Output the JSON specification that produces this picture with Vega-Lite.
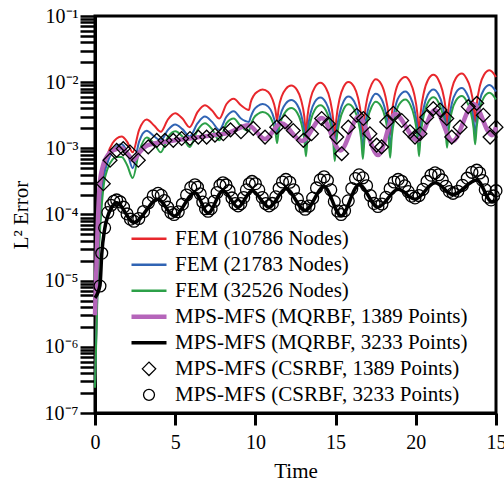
{
"$schema": "https://vega.github.io/schema/vega-lite/v6.json",
"width": 401, "height": 397,
"autosize": {"type": "none"},
"padding": {"left": 95, "top": 16, "right": 8, "bottom": 69},
"background": "white",
"config": {
  "view": {"stroke": "black", "strokeWidth": 3},
  "font": "Liberation Serif",
  "axis": {"domainColor": "black", "domainWidth": 3, "tickColor": "black", "labelColor": "black", "titleColor": "black", "labelFont": "Liberation Serif", "titleFont": "Liberation Serif", "grid": false, "titleFontWeight": "normal"}
},
"datasets": {
"fem": [
{"t":0,"r":2.5e-7,"b":2.5e-7,"g":2.4e-7},
{"t":0.1,"r":3.2e-6,"b":2.5e-6,"g":2.0e-6},
{"t":0.2,"r":2.5e-5,"b":2.0e-5,"g":1.58e-5},
{"t":0.35,"r":1.26e-4,"b":1.0e-4,"g":7.9e-5},
{"t":0.55,"r":4.5e-4,"b":3.55e-4,"g":2.82e-4},
{"t":0.8,"r":8.3e-4,"b":6.3e-4,"g":5.0e-4},
{"t":1.1,"r":1.2e-3,"b":8.9e-4,"g":6.8e-4},
{"t":1.35,"r":1.41e-3,"b":1.07e-3,"g":7.4e-4},
{"t":1.66,"r":1.51e-3,"b":1.15e-3,"g":7.4e-4},
{"t":2.0,"r":1.26e-3,"b":8.9e-4,"g":5.6e-4},
{"t":2.35,"r":8.7e-4,"b":5.0e-4,"g":3.55e-4},
{"t":2.75,"r":1.9e-3,"b":1.26e-3,"g":8.9e-4},
{"t":3.22,"r":2.72e-3,"b":1.84e-3,"g":1.46e-3},
{"t":3.7,"r":2.19e-3,"b":1.51e-3,"g":1.17e-3},
{"t":4.1,"r":1.78e-3,"b":1.32e-3,"g":8.7e-4},
{"t":4.55,"r":2.75e-3,"b":1.9e-3,"g":1.48e-3},
{"t":5.0,"r":3.39e-3,"b":2.29e-3,"g":1.82e-3},
{"t":5.45,"r":2.82e-3,"b":1.95e-3,"g":1.51e-3},
{"t":5.9,"r":2.09e-3,"b":1.51e-3,"g":1.05e-3},
{"t":6.4,"r":3.55e-3,"b":2.4e-3,"g":1.9e-3},
{"t":6.85,"r":4.47e-3,"b":3.02e-3,"g":2.4e-3},
{"t":7.3,"r":3.72e-3,"b":2.51e-3,"g":1.95e-3},
{"t":7.75,"r":2.82e-3,"b":1.9e-3,"g":1.32e-3},
{"t":8.2,"r":4.68e-3,"b":3.02e-3,"g":2.4e-3},
{"t":8.65,"r":5.62e-3,"b":3.63e-3,"g":2.82e-3},
{"t":9.1,"r":4.47e-3,"b":2.82e-3,"g":2.14e-3},
{"t":9.6,"r":3.8e-3,"b":2.51e-3,"g":1.82e-3},
{"t":9.7,"r":4.9e-3,"b":2.95e-3,"g":2.24e-3},
{"t":9.9,"r":6.31e-3,"b":3.8e-3,"g":2.88e-3},
{"t":10.15,"r":7.24e-3,"b":4.37e-3,"g":3.31e-3},
{"t":10.45,"r":7.76e-3,"b":4.68e-3,"g":3.55e-3},
{"t":10.8,"r":7.08e-3,"b":4.27e-3,"g":3.24e-3},
{"t":11.05,"r":5.62e-3,"b":3.39e-3,"g":2.57e-3},
{"t":11.25,"r":3.8e-3,"b":2.29e-3,"g":1.74e-3},
{"t":11.35,"r":2.63e-3,"b":1.59e-3,"g":1.2e-3},
{"t":11.45,"r":4.03e-3,"b":2.43e-3,"g":1.84e-3},
{"t":11.65,"r":6.17e-3,"b":3.72e-3,"g":2.82e-3},
{"t":11.9,"r":7.94e-3,"b":4.79e-3,"g":3.63e-3},
{"t":12.23,"r":8.91e-3,"b":5.37e-3,"g":4.07e-3},
{"t":12.6,"r":7.59e-3,"b":4.58e-3,"g":3.47e-3},
{"t":12.85,"r":5.37e-3,"b":3.24e-3,"g":2.45e-3},
{"t":13.05,"r":3.02e-3,"b":1.82e-3,"g":1.38e-3},
{"t":13.15,"r":1.66e-3,"b":1.0e-3,"g":7.6e-4},
{"t":13.25,"r":3.09e-3,"b":1.86e-3,"g":1.41e-3},
{"t":13.45,"r":5.75e-3,"b":3.47e-3,"g":2.63e-3},
{"t":13.7,"r":8.32e-3,"b":5.02e-3,"g":3.8e-3},
{"t":14.05,"r":9.77e-3,"b":5.89e-3,"g":4.46e-3},
{"t":14.4,"r":8.13e-3,"b":4.9e-3,"g":3.72e-3},
{"t":14.65,"r":5.5e-3,"b":3.32e-3,"g":2.51e-3},
{"t":14.85,"r":2.75e-3,"b":1.66e-3,"g":1.26e-3},
{"t":14.95,"r":1.41e-3,"b":8.5e-4,"g":6.4e-4},
{"t":15.05,"r":2.82e-3,"b":1.7e-3,"g":1.29e-3},
{"t":15.25,"r":5.62e-3,"b":3.39e-3,"g":2.57e-3},
{"t":15.5,"r":8.51e-3,"b":5.13e-3,"g":3.89e-3},
{"t":15.8,"r":1.01e-2,"b":6.09e-3,"g":4.62e-3},
{"t":16.15,"r":8.51e-3,"b":5.13e-3,"g":3.89e-3},
{"t":16.4,"r":5.75e-3,"b":3.47e-3,"g":2.63e-3},
{"t":16.6,"r":2.95e-3,"b":1.78e-3,"g":1.35e-3},
{"t":16.7,"r":1.51e-3,"b":9.1e-4,"g":6.9e-4},
{"t":16.8,"r":3.02e-3,"b":1.82e-3,"g":1.38e-3},
{"t":17.0,"r":6.1e-3,"b":3.68e-3,"g":2.79e-3},
{"t":17.25,"r":9.33e-3,"b":5.63e-3,"g":4.26e-3},
{"t":17.5,"r":1.11e-2,"b":6.69e-3,"g":5.07e-3},
{"t":17.85,"r":9.33e-3,"b":5.63e-3,"g":4.26e-3},
{"t":18.1,"r":6.17e-3,"b":3.72e-3,"g":2.82e-3},
{"t":18.3,"r":3.16e-3,"b":1.91e-3,"g":1.44e-3},
{"t":18.4,"r":1.58e-3,"b":9.5e-4,"g":7.2e-4},
{"t":18.5,"r":3.24e-3,"b":1.95e-3,"g":1.48e-3},
{"t":18.7,"r":6.61e-3,"b":3.99e-3,"g":3.02e-3},
{"t":18.95,"r":1.0e-2,"b":6.03e-3,"g":4.57e-3},
{"t":19.35,"r":1.2e-2,"b":7.24e-3,"g":5.48e-3},
{"t":19.65,"r":1.0e-2,"b":6.03e-3,"g":4.57e-3},
{"t":19.9,"r":6.61e-3,"b":3.99e-3,"g":3.02e-3},
{"t":20.1,"r":3.31e-3,"b":2.0e-3,"g":1.51e-3},
{"t":20.2,"r":1.66e-3,"b":1.0e-3,"g":7.6e-4},
{"t":20.3,"r":3.39e-3,"b":2.04e-3,"g":1.55e-3},
{"t":20.5,"r":6.92e-3,"b":4.17e-3,"g":3.16e-3},
{"t":20.75,"r":1.07e-2,"b":6.45e-3,"g":4.89e-3},
{"t":21.1,"r":1.29e-2,"b":7.78e-3,"g":5.9e-3},
{"t":21.4,"r":1.1e-2,"b":6.63e-3,"g":5.03e-3},
{"t":21.65,"r":7.59e-3,"b":4.58e-3,"g":3.47e-3},
{"t":21.85,"r":4.17e-3,"b":2.51e-3,"g":1.91e-3},
{"t":21.95,"r":2.24e-3,"b":1.35e-3,"g":1.02e-3},
{"t":22.05,"r":4.17e-3,"b":2.51e-3,"g":1.91e-3},
{"t":22.25,"r":7.94e-3,"b":4.79e-3,"g":3.63e-3},
{"t":22.5,"r":1.15e-2,"b":6.93e-3,"g":5.26e-3},
{"t":22.87,"r":1.35e-2,"b":8.14e-3,"g":6.17e-3},
{"t":23.15,"r":1.15e-2,"b":6.93e-3,"g":5.26e-3},
{"t":23.4,"r":8.13e-3,"b":4.9e-3,"g":3.72e-3},
{"t":23.6,"r":4.47e-3,"b":2.7e-3,"g":2.04e-3},
{"t":23.7,"r":2.51e-3,"b":1.51e-3,"g":1.15e-3},
{"t":23.8,"r":4.68e-3,"b":2.82e-3,"g":2.14e-3},
{"t":24.0,"r":8.91e-3,"b":5.37e-3,"g":4.07e-3},
{"t":24.25,"r":1.29e-2,"b":7.78e-3,"g":5.9e-3},
{"t":24.6,"r":1.51e-2,"b":9.1e-3,"g":6.9e-3},
{"t":25,"r":1.2e-2,"b":7.24e-3,"g":5.48e-3}
],
"pts": [
{"s":"p","t":0,"v":3e-6},{"s":"p","t":0.15,"v":5e-5},{"s":"p","t":0.3,"v":2.95e-4},{"s":"p","t":0.5,"v":5.5e-4},{"s":"p","t":0.8,"v":7.9e-4},{"s":"p","t":1.1,"v":9.3e-4},{"s":"p","t":1.66,"v":1.0e-3},{"s":"p","t":2.0,"v":8.5e-4},{"s":"p","t":2.4,"v":6.6e-4},{"s":"p","t":2.8,"v":8.9e-4},{"s":"p","t":3.3,"v":1.12e-3},{"s":"p","t":4.4,"v":1.26e-3},{"s":"p","t":5.9,"v":1.41e-3},{"s":"p","t":7.35,"v":1.58e-3},{"s":"p","t":8.3,"v":1.7e-3},{"s":"p","t":9.56,"v":2.24e-3},{"s":"p","t":10.6,"v":1.38e-3},{"s":"p","t":11.6,"v":2.4e-3},{"s":"p","t":12.9,"v":1.29e-3},{"s":"p","t":14.15,"v":2.88e-3},{"s":"p","t":15.3,"v":9.3e-4},{"s":"p","t":16.45,"v":3.02e-3},{"s":"p","t":17.65,"v":7.9e-4},{"s":"p","t":18.7,"v":3.31e-3},{"s":"p","t":20.1,"v":1.32e-3},{"s":"p","t":21.2,"v":3.8e-3},{"s":"p","t":22.3,"v":1.29e-3},{"s":"p","t":23.6,"v":4.68e-3},{"s":"p","t":24.75,"v":1.58e-3},{"s":"p","t":25,"v":2.09e-3},
{"s":"k","t":0,"v":5.5e-6},{"s":"k","t":0.31,"v":8.5e-6},{"s":"k","t":0.42,"v":2.5e-5},{"s":"k","t":0.6,"v":6e-5},{"s":"k","t":0.8,"v":9.5e-5},{"s":"k","t":1.05,"v":1.3e-4},{"s":"k","t":1.35,"v":1.51e-4},{"s":"k","t":2.43,"v":7.6e-5},{"s":"k","t":3.93,"v":1.7e-4},{"s":"k","t":4.93,"v":9.5e-5},{"s":"k","t":6.23,"v":2.14e-4},{"s":"k","t":7.05,"v":1.05e-4},{"s":"k","t":7.98,"v":2.29e-4},{"s":"k","t":8.92,"v":1.29e-4},{"s":"k","t":9.79,"v":2.29e-4},{"s":"k","t":10.85,"v":1.29e-4},{"s":"k","t":11.9,"v":2.45e-4},{"s":"k","t":13.1,"v":1.15e-4},{"s":"k","t":14.28,"v":2.63e-4},{"s":"k","t":15.34,"v":9.5e-5},{"s":"k","t":16.46,"v":2.82e-4},{"s":"k","t":17.64,"v":1.29e-4},{"s":"k","t":18.9,"v":2.4e-4},{"s":"k","t":19.95,"v":1.7e-4},{"s":"k","t":21.2,"v":3.02e-4},{"s":"k","t":22.32,"v":2.0e-4},{"s":"k","t":23.8,"v":3.31e-4},{"s":"k","t":24.75,"v":1.55e-4},{"s":"k","t":25,"v":1.6e-4},
{"s":"d","t":0.52,"v":2.92e-4},{"s":"d","t":0.94,"v":6.6e-4},{"s":"d","t":1.35,"v":9.3e-4},{"s":"d","t":1.76,"v":9.9e-4},{"s":"d","t":2.18,"v":8.8e-4},{"s":"d","t":2.7,"v":6.6e-4},{"s":"d","t":3.32,"v":1.05e-3},{"s":"d","t":3.85,"v":1.32e-3},{"s":"d","t":4.36,"v":1.32e-3},{"s":"d","t":4.88,"v":1.32e-3},{"s":"d","t":5.4,"v":1.41e-3},{"s":"d","t":5.92,"v":1.41e-3},{"s":"d","t":6.44,"v":1.48e-3},{"s":"d","t":6.96,"v":1.48e-3},{"s":"d","t":7.48,"v":1.58e-3},{"s":"d","t":8.0,"v":1.66e-3},{"s":"d","t":8.45,"v":1.9e-3},{"s":"d","t":9.1,"v":1.78e-3},{"s":"d","t":9.87,"v":2.0e-3},{"s":"d","t":10.6,"v":1.48e-3},{"s":"d","t":11.33,"v":2.09e-3},{"s":"d","t":11.85,"v":2.51e-3},{"s":"d","t":12.36,"v":1.86e-3},{"s":"d","t":12.99,"v":1.32e-3},{"s":"d","t":13.5,"v":1.66e-3},{"s":"d","t":14.13,"v":2.82e-3},{"s":"d","t":14.55,"v":2.34e-3},{"s":"d","t":15.07,"v":1.48e-3},{"s":"d","t":15.38,"v":8.3e-4},{"s":"d","t":15.79,"v":2.09e-3},{"s":"d","t":16.32,"v":3.16e-3},{"s":"d","t":16.73,"v":2.82e-3},{"s":"d","t":17.14,"v":1.66e-3},{"s":"d","t":17.56,"v":1.12e-3},{"s":"d","t":17.87,"v":1.05e-3},{"s":"d","t":18.19,"v":2.51e-3},{"s":"d","t":18.6,"v":3.39e-3},{"s":"d","t":19.12,"v":2.63e-3},{"s":"d","t":19.64,"v":1.78e-3},{"s":"d","t":19.95,"v":1.48e-3},{"s":"d","t":20.26,"v":1.66e-3},{"s":"d","t":20.68,"v":2.95e-3},{"s":"d","t":21.09,"v":3.98e-3},{"s":"d","t":21.51,"v":3.8e-3},{"s":"d","t":21.93,"v":2.82e-3},{"s":"d","t":22.24,"v":1.48e-3},{"s":"d","t":22.76,"v":2.09e-3},{"s":"d","t":23.27,"v":4.27e-3},{"s":"d","t":23.8,"v":4.79e-3},{"s":"d","t":24.21,"v":3.16e-3},{"s":"d","t":24.63,"v":1.48e-3},{"s":"d","t":25,"v":2.09e-3},
{"s":"c","t":0.31,"v":8.3e-6},{"s":"c","t":0.42,"v":2.6e-5},{"s":"c","t":0.6,"v":6.3e-5},{"s":"c","t":0.8,"v":1.07e-4},{"s":"c","t":1.0,"v":1.38e-4},{"s":"c","t":1.17,"v":1.58e-4},{"s":"c","t":1.35,"v":1.66e-4},{"s":"c","t":1.57,"v":1.55e-4},{"s":"c","t":1.78,"v":1.29e-4},{"s":"c","t":2.0,"v":1.02e-4},{"s":"c","t":2.21,"v":8.5e-5},{"s":"c","t":2.43,"v":7.9e-5},{"s":"c","t":2.73,"v":8.7e-5},{"s":"c","t":3.03,"v":1.11e-4},{"s":"c","t":3.33,"v":1.5e-4},{"s":"c","t":3.63,"v":1.91e-4},{"s":"c","t":3.93,"v":2.09e-4},{"s":"c","t":4.13,"v":1.95e-4},{"s":"c","t":4.33,"v":1.62e-4},{"s":"c","t":4.53,"v":1.29e-4},{"s":"c","t":4.73,"v":1.07e-4},{"s":"c","t":4.93,"v":1.0e-4},{"s":"c","t":5.19,"v":1.1e-4},{"s":"c","t":5.45,"v":1.43e-4},{"s":"c","t":5.71,"v":1.97e-4},{"s":"c","t":5.97,"v":2.55e-4},{"s":"c","t":6.23,"v":2.82e-4},{"s":"c","t":6.39,"v":2.58e-4},{"s":"c","t":6.56,"v":2.05e-4},{"s":"c","t":6.72,"v":1.54e-4},{"s":"c","t":6.89,"v":1.22e-4},{"s":"c","t":7.05,"v":1.12e-4},{"s":"c","t":7.24,"v":1.23e-4},{"s":"c","t":7.42,"v":1.58e-4},{"s":"c","t":7.61,"v":2.15e-4},{"s":"c","t":7.79,"v":2.75e-4},{"s":"c","t":7.98,"v":3.02e-4},{"s":"c","t":8.17,"v":2.8e-4},{"s":"c","t":8.36,"v":2.29e-4},{"s":"c","t":8.54,"v":1.78e-4},{"s":"c","t":8.73,"v":1.46e-4},{"s":"c","t":8.92,"v":1.35e-4},{"s":"c","t":9.09,"v":1.46e-4},{"s":"c","t":9.27,"v":1.81e-4},{"s":"c","t":9.44,"v":2.36e-4},{"s":"c","t":9.62,"v":2.92e-4},{"s":"c","t":9.79,"v":3.16e-4},{"s":"c","t":10.0,"v":2.92e-4},{"s":"c","t":10.21,"v":2.36e-4},{"s":"c","t":10.43,"v":1.81e-4},{"s":"c","t":10.64,"v":1.46e-4},{"s":"c","t":10.85,"v":1.35e-4},{"s":"c","t":11.06,"v":1.47e-4},{"s":"c","t":11.27,"v":1.85e-4},{"s":"c","t":11.48,"v":2.47e-4},{"s":"c","t":11.69,"v":3.1e-4},{"s":"c","t":11.9,"v":3.39e-4},{"s":"c","t":12.14,"v":3.07e-4},{"s":"c","t":12.38,"v":2.37e-4},{"s":"c","t":12.62,"v":1.72e-4},{"s":"c","t":12.86,"v":1.33e-4},{"s":"c","t":13.1,"v":1.2e-4},{"s":"c","t":13.34,"v":1.34e-4},{"s":"c","t":13.57,"v":1.77e-4},{"s":"c","t":13.81,"v":2.52e-4},{"s":"c","t":14.04,"v":3.33e-4},{"s":"c","t":14.28,"v":3.72e-4},{"s":"c","t":14.49,"v":3.28e-4},{"s":"c","t":14.7,"v":2.36e-4},{"s":"c","t":14.92,"v":1.57e-4},{"s":"c","t":15.13,"v":1.13e-4},{"s":"c","t":15.34,"v":1.0e-4},{"s":"c","t":15.56,"v":1.14e-4},{"s":"c","t":15.79,"v":1.61e-4},{"s":"c","t":16.01,"v":2.47e-4},{"s":"c","t":16.24,"v":3.49e-4},{"s":"c","t":16.46,"v":3.98e-4},{"s":"c","t":16.7,"v":3.58e-4},{"s":"c","t":16.93,"v":2.72e-4},{"s":"c","t":17.17,"v":1.93e-4},{"s":"c","t":17.4,"v":1.47e-4},{"s":"c","t":17.64,"v":1.32e-4},{"s":"c","t":17.89,"v":1.44e-4},{"s":"c","t":18.14,"v":1.82e-4},{"s":"c","t":18.4,"v":2.45e-4},{"s":"c","t":18.65,"v":3.1e-4},{"s":"c","t":18.9,"v":3.39e-4},{"s":"c","t":19.11,"v":3.18e-4},{"s":"c","t":19.32,"v":2.71e-4},{"s":"c","t":19.53,"v":2.22e-4},{"s":"c","t":19.74,"v":1.89e-4},{"s":"c","t":19.95,"v":1.78e-4},{"s":"c","t":20.2,"v":1.93e-4},{"s":"c","t":20.45,"v":2.4e-4},{"s":"c","t":20.7,"v":3.16e-4},{"s":"c","t":20.95,"v":3.93e-4},{"s":"c","t":21.2,"v":4.27e-4},{"s":"c","t":21.42,"v":3.99e-4},{"s":"c","t":21.65,"v":3.33e-4},{"s":"c","t":21.87,"v":2.67e-4},{"s":"c","t":22.1,"v":2.23e-4},{"s":"c","t":22.32,"v":2.09e-4},{"s":"c","t":22.62,"v":2.25e-4},{"s":"c","t":22.91,"v":2.76e-4},{"s":"c","t":23.21,"v":3.54e-4},{"s":"c","t":23.5,"v":4.34e-4},{"s":"c","t":23.8,"v":4.68e-4},{"s":"c","t":23.98,"v":4.24e-4},{"s":"c","t":24.16,"v":3.27e-4},{"s":"c","t":24.33,"v":2.37e-4},{"s":"c","t":24.51,"v":1.83e-4},{"s":"c","t":24.69,"v":1.66e-4},{"s":"c","t":24.85,"v":1.91e-4},{"s":"c","t":25,"v":2.29e-4}
]
},
"encoding": {
  "x": {"field": "t", "type": "quantitative",
    "scale": {"domain": [0, 25], "nice": false, "zero": false},
    "axis": {"values": [0, 5, 10, 15, 20, 25], "labelExpr": "datum.value == 25 ? '15' : datum.label", "tickSize": 12, "tickWidth": 3, "labelPadding": 7, "labelFontSize": 20, "labelFlush": false, "title": "Time", "titleFontSize": 21, "titleFontWeight": "normal", "titlePadding": 8}},
  "y": {"field": "v", "type": "quantitative",
    "scale": {"type": "log", "domain": [1e-7, 0.1], "nice": false},
    "axis": {"values": [1e-7,2e-7,3e-7,4e-7,5e-7,6e-7,7e-7,8e-7,9e-7,1e-6,2e-6,3e-6,4e-6,5e-6,6e-6,7e-6,8e-6,9e-6,1e-5,2e-5,3e-5,4e-5,5e-5,6e-5,7e-5,8e-5,9e-5,1e-4,2e-4,3e-4,4e-4,5e-4,6e-4,7e-4,8e-4,9e-4,1e-3,2e-3,3e-3,4e-3,5e-3,6e-3,7e-3,8e-3,9e-3,1e-2,2e-2,3e-2,4e-2,5e-2,6e-2,7e-2,8e-2,9e-2,1e-1],
      "labelExpr": "abs(log(datum.value)/LN10 - round(log(datum.value)/LN10)) < 0.001 ? '10' + ['⁰','⁻¹','⁻²','⁻³','⁻⁴','⁻⁵','⁻⁶','⁻⁷'][-round(log(datum.value)/LN10)] : ''",
      "labelOverlap": false, "tickSize": 15, "tickWidth": 2.5, "labelPadding": 2, "labelFontSize": 20,
      "title": "L² Error", "titleFontSize": 21, "titleFontWeight": "normal", "titlePadding": 13,
      "encode": {"ticks": {"update": {"x2": {"signal": "abs(log(datum.value)/LN10 - round(log(datum.value)/LN10)) < 0.001 ? -15 : -8"}}}}}},
  "color": {"field": "s", "type": "nominal",
    "scale": {"domain": ["r", "b", "g", "p", "k", "d", "c"], "range": ["#e8272c", "#3064b4", "#2ca048", "#b565ba", "#000000", "#000000", "#000000"]},
    "legend": {"orient": "none", "legendX": 35, "legendY": 210, "title": null, "padding": 0, "offset": 0,
      "labelExpr": "datum.value == 'r' ? 'FEM (10786 Nodes)' : datum.value == 'b' ? 'FEM (21783 Nodes)' : datum.value == 'g' ? 'FEM (32526 Nodes)' : datum.value == 'p' ? 'MPS-MFS (MQRBF, 1389 Points)' : datum.value == 'k' ? 'MPS-MFS (MQRBF, 3233 Points)' : datum.value == 'd' ? 'MPS-MFS (CSRBF, 1389 Points)' : 'MPS-MFS (CSRBF, 3233 Points)'",
      "labelFont": "Liberation Serif", "labelFontSize": 21, "labelColor": "black", "labelOffset": 7, "labelLimit": 0,
      "symbolType": "stroke", "symbolSize": 1225, "clipHeight": 25.7, "rowPadding": 0,
      "encode": {"symbols": {"update": {
        "shape": {"signal": "(datum.value == 'd' ? 'diamond' : datum.value == 'c' ? 'circle' : 'stroke')"},
        "size": {"signal": "(datum.value == 'd' ? 180 : datum.value == 'c' ? 120 : 1225)"},
        "strokeWidth": {"signal": "(datum.value == 'p' ? 4.5 : datum.value == 'k' ? 3.5 : (datum.value == 'd' || datum.value == 'c') ? 1.3 : 2.5)"},
        "stroke": {"scale": "color", "field": "value"},
        "fill": {"value": "transparent"},
        "opacity": {"value": 1}}}}}}
},
"layer": [
  {"data": {"name": "fem"}, "transform": [{"fold": ["r", "b", "g"], "as": ["s", "v"]}],
   "mark": {"type": "line", "strokeWidth": 2, "interpolate": "monotone"}},
  {"data": {"name": "pts"}, "transform": [{"filter": "datum.s == 'p'"}],
   "mark": {"type": "line", "strokeWidth": 4.5, "interpolate": "monotone"}},
  {"data": {"name": "pts"}, "transform": [{"filter": "datum.s == 'k'"}],
   "mark": {"type": "line", "strokeWidth": 3.5, "interpolate": "monotone"}},
  {"data": {"name": "pts"}, "transform": [{"filter": "datum.s == 'd'"}],
   "mark": {"type": "point", "shape": "diamond", "size": 190, "filled": false, "strokeWidth": 1.3, "opacity": 1}},
  {"data": {"name": "pts"}, "transform": [{"filter": "datum.s == 'c'"}],
   "mark": {"type": "point", "shape": "circle", "size": 140, "filled": false, "strokeWidth": 1.3, "opacity": 1}}
]
}
